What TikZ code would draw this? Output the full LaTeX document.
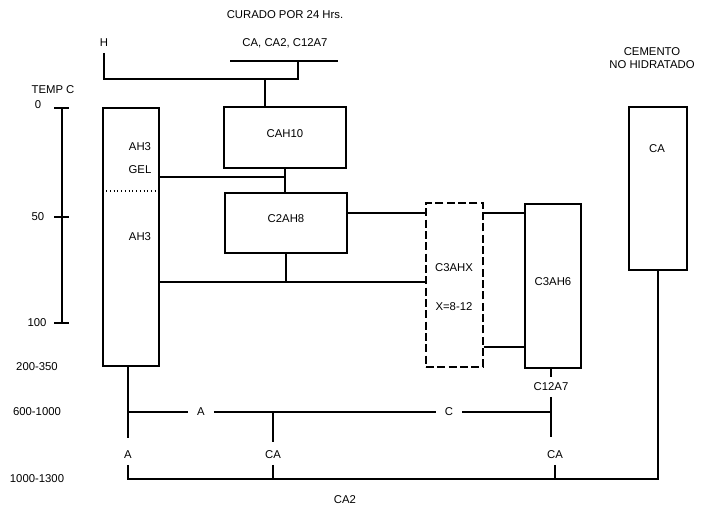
\documentclass[tikz,border=0pt]{standalone}
\usepackage{fontspec}
\setmainfont{Liberation Sans}
\usetikzlibrary{fit}

\begin{document}
\begin{tikzpicture}[x=0.75pt, y=-0.75pt, line width=0.8pt,
    every node/.style={font=\fontsize{8.5}{10}\selectfont, inner sep=1pt},
    fase/.style={draw, inner sep=0pt},
    fasex/.style={fase, dash pattern=on 6pt off 2.5pt},
    rot/.style={inner xsep=6.5pt, inner ysep=4pt}]
  \useasboundingbox (0,0) rectangle (701,507);

  % Escala de temperatura
  \node (temp) at (53,90) {TEMP C};
  \node (t0) at (38,105) {0};
  \node (t50) at (38,217) {50};
  \node (t100) at (37,323) {100};
  \node (s200) at (37,367) {200-350};
  \node (s600) at (37,412) {600-1000};
  \node (s1000) at (37,479) {1000-1300};
  \coordinate (e0) at (62,108);
  \coordinate (e50) at (62,217);
  \coordinate (e100) at (62,323);
  \draw (e0) -- (e100);
  \foreach \e in {e0,e50,e100}
    \draw ([xshift=-6pt]\e) -- ([xshift=5.25pt]\e);

  % Fases
  \node[fase, fit={(103,108) (159,366)}] (ah3) {};
  \node[fase, fit={(224,107) (346,168)}] (cah10) {CAH10};
  \node[fase, fit={(225,193) (347,253)}] (c2ah8) {C2AH8};
  \node[fasex, fit={(426,203) (483,367)}] (c3ahx) {};
  \node[fase, fit={(525,204) (581,368)}] (c3ah6) {C3AH6};
  \node[fase, fit={(629,107) (687,270)}] (ca) {};

  % Textos dentro de las cajas
  \node (ah3a) at (140,147) {AH3};
  \node (gel) at (140,170) {GEL};
  \node (ah3b) at (140,237) {AH3};
  \draw[dotted] (ah3.west |- 0,191) -- (ah3.east |- 0,191);
  \node (c3ahxt) at (454,268) {C3AHX};
  \node (xval) at (454,307) {X=8-12};
  \node (cat) at (657,149) {CA};

  % Parte superior
  \node (curado) at (285,15) {CURADO POR 24 Hrs.};
  \node (mezcla) at (285,43) {CA, CA2, C12A7};
  \node[rot] (h) at (104,43) {H};
  \node[align=center] (cem) at (652,58) {CEMENTO\\NO HIDRATADO};
  \coordinate (u1) at (230,61);
  \coordinate (u2) at (338,61);
  \coordinate (uj) at (298,61);
  \coordinate (t1) at (0,79);
  \coordinate (cd) at (265,79);
  \draw (u1) -- (u2);
  \draw (h) |- (uj |- t1) -- (uj);
  \draw (cd) -- (cd |- cah10.north);

  % Conexiones entre fases
  \coordinate (r1) at (0,177);
  \coordinate (r2) at (0,213);
  \coordinate (r3) at (0,282);
  \coordinate (r4) at (0,347);
  \draw (cah10.south) -- (cah10.south |- c2ah8.north);
  \draw (ah3.east |- r1) -- (cah10.south |- r1);
  \draw (c2ah8.south) -- (c2ah8.south |- r3);
  \draw (ah3.east |- r3) -- (c3ahx.west |- r3);
  \draw (c2ah8.east |- r2) -- (c3ahx.west |- r2);
  \draw (c3ahx.east |- r2) -- (c3ah6.west |- r2);
  \draw (c3ahx.east |- r4) -- (c3ah6.west |- r4);

  % Altas temperaturas
  \coordinate (a1) at (128,412);
  \coordinate (a2) at (128,438);
  \coordinate (b1) at (273,412);
  \coordinate (b2) at (273,442);
  \coordinate (c1) at (551,412);
  \coordinate (c2) at (551,437);
  \coordinate (r5) at (0,479);
  \node[rot] (la) at (201,412) {A};
  \node[rot] (lc) at (449,412) {C};
  \node[rot] (c12a7) at (551,387) {C12A7};
  \node[rot] (pa) at (128,455) {A};
  \node[rot] (pb) at (273,455) {CA};
  \node[rot] (pc) at (555,455) {CA};
  \node (ca2) at (345,500) {CA2};

  \draw (a1 |- ah3.south) -- (a2);
  \draw (a1) -- (la);
  \draw (la) -- (b1) -- (lc);
  \draw (lc) -- (c1);
  \draw (b1) -- (b2);
  \draw (c3ah6.south -| c12a7) -- (c12a7);
  \draw (c12a7) -- (c1) -- (c2);
  \draw (pa) |- (ca.south |- r5) -- (ca.south);
  \draw (pb) -- (pb |- r5);
  \draw (pc) -- (pc |- r5);
\end{tikzpicture}
\end{document}
